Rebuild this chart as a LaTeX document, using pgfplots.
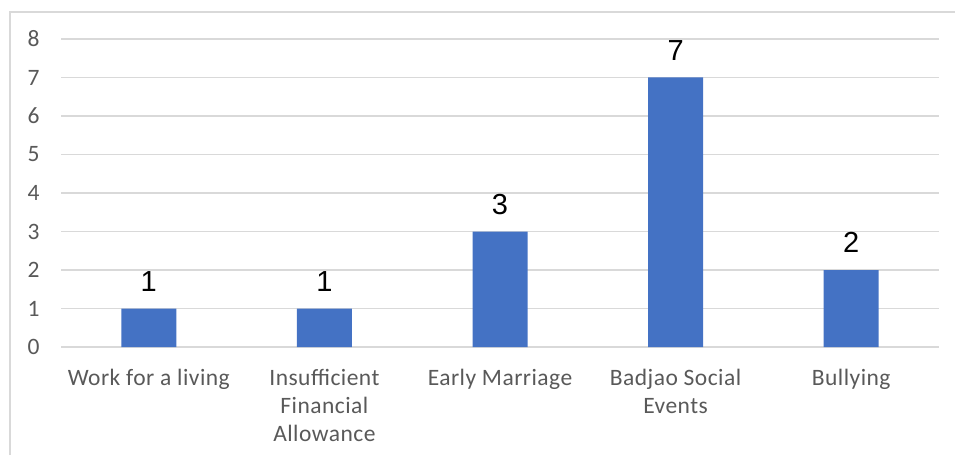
\documentclass[border=0pt]{standalone}
\usepackage{pgfplots}
\pgfplotsset{compat=1.18}
\usepackage{fontspec}
\setmainfont{Carlito}
\newfontfamily\arialf{Liberation Sans}
\definecolor{barblue}{HTML}{4472C4}
\definecolor{gridgray}{HTML}{D9D9D9}
\definecolor{txtgray}{HTML}{595959}
\begin{document}
\begin{tikzpicture}
\path[use as bounding box] (0pt,0pt) rectangle (955pt,455pt);
\draw[gridgray, line width=1.2pt] (10pt,0pt) -- (10pt,443pt) -- (955pt,443pt);
\begin{axis}[
  at={(148.8pt,108pt)}, anchor=origin,
  scale only axis, width=878pt, height=308pt,
  xmin=-0.5, xmax=4.5, ymin=0, ymax=8,
  ybar, bar width=55pt,
  xtick=data,
  xticklabels={{Work for a living},{Insufficient\\Financial\\Allowance},{Early Marriage},{Badjao Social\\Events},{Bullying}},
  ytick={0,1,...,8},
  axis line style={draw=none},
  major tick length=0pt,
  ymajorgrids, grid style={gridgray, line width=1.2pt},
  /pgf/number format/assume math mode=true,
  tick label style={font=\addfontfeatures{LetterSpace=2}\fontsize{23.5}{28}\selectfont, text=txtgray},
  x tick label style={align=center, yshift=-19pt},
  y tick label style={xshift=-18pt},
  nodes near coords,
  every node near coord/.append style={font=\arialf\fontsize{29}{30}\selectfont, text=black, inner sep=0pt, yshift=17pt},
]
\addplot[fill=barblue, draw=none] coordinates {(0,1) (1,1) (2,3) (3,7) (4,2)};
\end{axis}
\end{tikzpicture}
\end{document}
